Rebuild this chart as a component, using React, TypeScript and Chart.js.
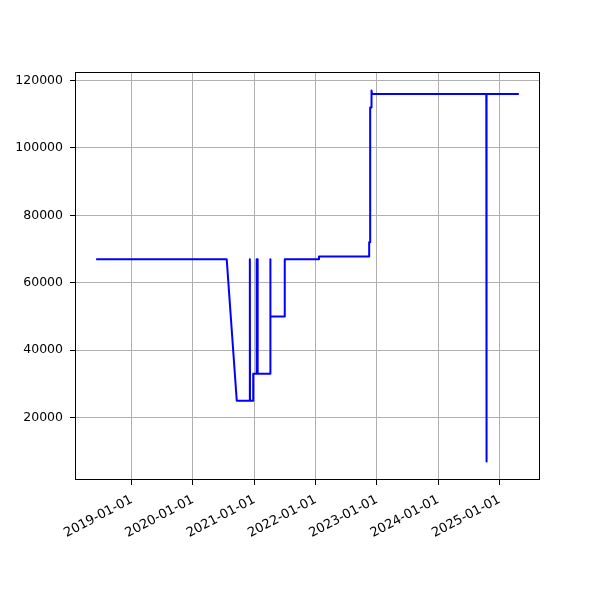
import React, { useEffect, useRef } from 'react';
import { Chart, registerables } from 'chart.js';

Chart.register(...registerables);

const dates: string[] = [
  '2018-06-03', '2020-07-20', '2020-09-18', '2020-12-04', '2020-12-05', '2020-12-06',
  '2020-12-24', '2020-12-25', '2021-01-13', '2021-01-14', '2021-01-15', '2021-01-19',
  '2021-01-20', '2021-01-21', '2021-04-05', '2021-04-06', '2021-04-07', '2021-06-30',
  '2021-07-01', '2022-01-20', '2022-01-21', '2022-11-15', '2022-11-16', '2022-11-21',
  '2022-11-22', '2022-11-27', '2022-11-28', '2022-12-02', '2022-12-03', '2024-10-14',
  '2024-10-15', '2024-10-16', '2025-04-26',
];

const values: number[] = [
  67000, 67000, 25000, 25000, 67000, 25000,
  25000, 33000, 33000, 67000, 33000, 33000,
  67000, 33000, 33000, 67000, 50000, 50000,
  67000, 67000, 67800, 67800, 72000, 72000,
  112000, 112000, 117000, 117000, 116000, 116000,
  7000, 116000, 116000,
];

const xTickLabels: string[] = [
  '2019-01-01', '2020-01-01', '2021-01-01', '2022-01-01', '2023-01-01', '2024-01-01', '2025-01-01',
];

const yTicks: number[] = [20000, 40000, 60000, 80000, 100000, 120000];

const XFONT = { family: "'DejaVu Sans', sans-serif", size: 13 };
const YFONT = { family: "'DejaVu Sans', sans-serif", size: 12.5 };

const boxPlugin = {
  id: 'box',
  afterDraw(chart: any) {
    const { ctx, chartArea } = chart;
    const l = Math.round(chartArea.left) + 0.5;
    const t = Math.round(chartArea.top) + 0.5;
    const r = Math.round(chartArea.right) - 0.5;
    const b = Math.round(chartArea.bottom) - 0.5;
    ctx.save();
    ctx.strokeStyle = '#000';
    ctx.lineWidth = 1;
    ctx.strokeRect(l, t, r - l, b - t);
    ctx.restore();
  },
};

export default function App() {
  const canvasRef = useRef<HTMLCanvasElement | null>(null);

  useEffect(() => {
    if (!canvasRef.current) return;
    const xs = dates.map((d) => Date.parse(d));
    const pts = xs.map((x, i) => ({ x, y: values[i] }));
    const xLo = Math.min(...xs);
    const xHi = Math.max(...xs);
    const yLo = Math.min(...values);
    const yHi = Math.max(...values);
    const xm = (xHi - xLo) * 0.05;
    const ym = (yHi - yLo) * 0.05;

    const chart = new Chart(canvasRef.current, {
      type: 'line',
      data: {
        datasets: [
          {
            data: pts,
            borderColor: '#0000ff',
            borderWidth: 2,
            pointRadius: 0,
            tension: 0,
            fill: false,
            borderJoinStyle: 'round',
            borderCapStyle: 'butt',
          },
        ],
      },
      options: {
        animation: false,
        responsive: false,
        devicePixelRatio: 1,
        layout: { padding: { left: 0, right: 60, top: 72, bottom: 0 } },
        plugins: { legend: { display: false }, tooltip: { enabled: false } },
        scales: {
          x: {
            type: 'linear',
            min: xLo - xm,
            max: xHi + xm,
            afterBuildTicks: (scale: any) => {
              scale.ticks = xTickLabels.map((s) => ({ value: Date.parse(s) }));
            },
            afterFit: (scale: any) => {
              scale.height = 120;
            },
            ticks: {
              autoSkip: false,
              minRotation: 28,
              maxRotation: 28,
              padding: 7,
              color: '#000',
              font: XFONT,
              callback: (_v: any, i: number) => xTickLabels[i],
            },
            grid: { color: '#b0b0b0', lineWidth: 1, tickColor: '#000', tickLength: 5 },
            border: { display: false },
          },
          y: {
            type: 'linear',
            min: yLo - ym,
            max: yHi + ym,
            afterBuildTicks: (scale: any) => {
              scale.ticks = yTicks.map((v) => ({ value: v }));
            },
            afterFit: (scale: any) => {
              scale.width = 75;
            },
            ticks: {
              padding: 7,
              color: '#000',
              font: YFONT,
              callback: (v: any) => String(v),
            },
            grid: { color: '#b0b0b0', lineWidth: 1, tickColor: '#000', tickLength: 5 },
            border: { display: false },
          },
        },
      },
      plugins: [boxPlugin],
    });
    return () => chart.destroy();
  }, []);

  return (
    <div style={{ position: 'absolute', left: 0, top: 0, width: 600, height: 600, background: '#fff' }}>
      <canvas ref={canvasRef} width={600} height={600} style={{ width: 600, height: 600 }} />
    </div>
  );
}
